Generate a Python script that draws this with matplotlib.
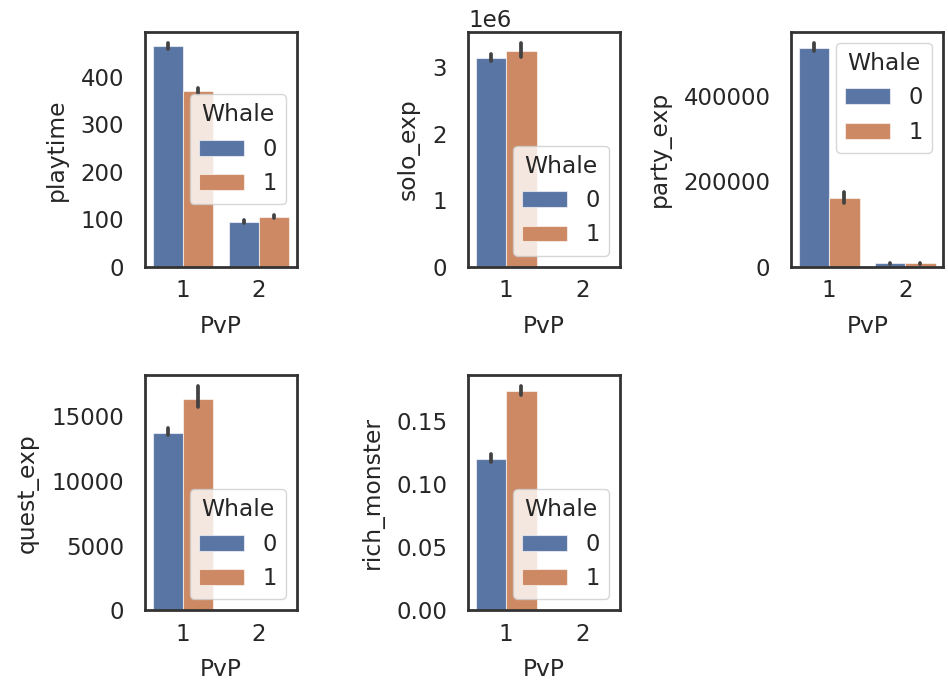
"""
Whale vs non-whale players: mean of five activity metrics split by PvP,
one barplot panel per metric (bars = mean, black line = 95% CI).
"""

import numpy as np
import matplotlib
matplotlib.use("Agg")
import matplotlib.pyplot as plt
import seaborn as sns

# --------------------------------------------------------------------------
# Data
# --------------------------------------------------------------------------

pvp_levels = ["1", "2"]
whale_levels = ["0", "1"]
metrics = ["playtime", "solo_exp", "party_exp", "quest_exp", "rich_monster"]

# mean per PvP level, one list per whale level
playtime_w0 = [465, 95]
playtime_w1 = [370, 105]
solo_exp_w0 = [3.14e6, np.nan]
solo_exp_w1 = [3.24e6, np.nan]
party_exp_w0 = [512000, 8500]
party_exp_w1 = [160000, 8000]
quest_exp_w0 = [13670, np.nan]
quest_exp_w1 = [16280, np.nan]
rich_monster_w0 = [0.1202, np.nan]
rich_monster_w1 = [0.1746, np.nan]

# confidence interval (low, high) per PvP level
playtime_ci_w0 = [(459, 471), (92, 99)]
playtime_ci_w1 = [(364, 377), (102, 109)]
solo_exp_ci_w0 = [(3.10e6, 3.20e6), None]
solo_exp_ci_w1 = [(3.16e6, 3.37e6), None]
party_exp_ci_w0 = [(504000, 524000), (7000, 10000)]
party_exp_ci_w1 = [(150000, 175000), (6500, 9500)]
quest_exp_ci_w0 = [(13500, 14100), None]
quest_exp_ci_w1 = [(15700, 17300), None]
rich_monster_ci_w0 = [(0.118, 0.124), None]
rich_monster_ci_w1 = [(0.171, 0.178), None]

means = {
    "playtime": [playtime_w0, playtime_w1],
    "solo_exp": [solo_exp_w0, solo_exp_w1],
    "party_exp": [party_exp_w0, party_exp_w1],
    "quest_exp": [quest_exp_w0, quest_exp_w1],
    "rich_monster": [rich_monster_w0, rich_monster_w1],
}
cis = {
    "playtime": [playtime_ci_w0, playtime_ci_w1],
    "solo_exp": [solo_exp_ci_w0, solo_exp_ci_w1],
    "party_exp": [party_exp_ci_w0, party_exp_ci_w1],
    "quest_exp": [quest_exp_ci_w0, quest_exp_ci_w1],
    "rich_monster": [rich_monster_ci_w0, rich_monster_ci_w1],
}
legend_loc = {
    "playtime": "center right",
    "solo_exp": "lower right",
    "party_exp": "upper right",
    "quest_exp": "lower right",
    "rich_monster": "lower right",
}

# --------------------------------------------------------------------------
# Plot
# --------------------------------------------------------------------------

sns.set_theme(style="white", font_scale=1.5)
plt.rcParams.update({
    "axes.linewidth": 2.0,
    "axes.labelsize": 16.8,
    "axes.labelpad": 9,
    "xtick.labelsize": 16.5,
    "ytick.labelsize": 16.5,
    "legend.fontsize": 16.3,
    "legend.title_fontsize": 16.8,
})
colors = [sns.desaturate(c, 0.75) for c in sns.color_palette("deep")[:2]]

fig, axes = plt.subplots(2, 3, figsize=(9.48, 6.88), dpi=100)
fig.subplots_adjust(left=0.153, right=0.995, bottom=0.113, top=0.954,
                    wspace=1.125, hspace=0.46)

width = 0.4
x = np.arange(len(pvp_levels))

for ax, metric in zip(axes.flat, metrics):
    for j, whale in enumerate(whale_levels):
        offs = (j - 0.5) * width
        vals = np.array(means[metric][j], dtype=float)
        ok = ~np.isnan(vals)
        ax.bar(x[ok] + offs, vals[ok], width, color=colors[j], label=whale,
               edgecolor=(1, 1, 1, 0.6), linewidth=0.8)
        for i, ci in enumerate(cis[metric][j]):
            if ci is None:
                continue
            ax.plot([x[i] + offs] * 2, ci, color=".26", lw=2.7,
                    solid_capstyle="round")
    ax.set_xlim(-0.5, len(pvp_levels) - 0.5)
    ax.set_xticks(x)
    ax.set_xticklabels(pvp_levels)
    ax.tick_params(axis="y", length=0, pad=15)
    ax.tick_params(axis="x", length=0, pad=9)
    for sp in ax.spines.values():
        sp.set_edgecolor(".2")
    ax.set_xlabel("PvP")
    ax.set_ylabel(metric)
    ax.legend(title="Whale", loc=legend_loc[metric])

axes[1, 2].remove()

fig.savefig("out.png", dpi=100)
